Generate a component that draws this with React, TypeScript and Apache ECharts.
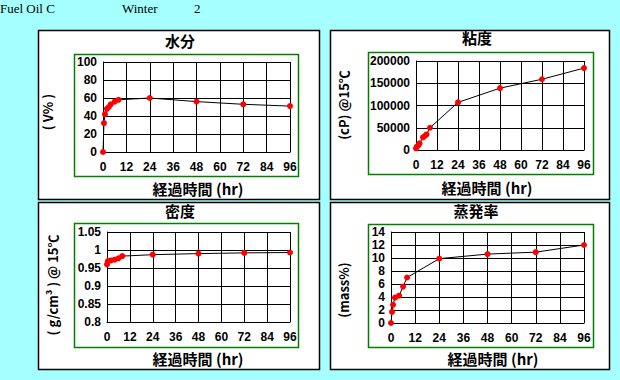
import React, { useEffect, useRef } from "react";
import * as echarts from "echarts";

const waterTimes = [0, 0.5, 1, 2, 3, 4, 6, 8, 24, 48, 72, 96];
const waterValues = [0, 32, 42, 48, 50, 53, 56, 58, 60, 56, 53, 51];

const viscTimes = [0, 0.5, 1.5, 2, 4, 5, 6, 8, 24, 48, 72, 96];
const viscValues = [3800, 7500, 11000, 15000, 28500, 31500, 35000, 50000, 107000, 139000, 159000, 184000];

const densTimes = [0, 0.5, 2, 4, 6, 8, 24, 48, 72, 96];
const densValues = [0.96, 0.969, 0.971, 0.973, 0.977, 0.983, 0.987, 0.99, 0.992, 0.993];

const evapTimes = [0, 0.5, 1, 2, 4, 6, 8, 24, 48, 72, 96];
const evapValues = [0, 1.7, 2.8, 3.9, 4.2, 5.6, 7.0, 9.9, 10.6, 10.9, 12.0];

const panelTitles = ["水分", "粘度", "密度", "蒸発率"];
const yLabels = ["( V% )", "(cP) @15℃", "( g/cm³ ) @ 15℃", "(mass%)"];
const xName = "経過時間 (hr)";
const headerTexts = ["Fuel Oil C", "Winter", "2"];

export default function App() {
  const ref = useRef<HTMLDivElement>(null);
  useEffect(() => {
    document.body.style.margin = "0";
    const chart = echarts.init(ref.current!, null, { renderer: "svg" });
    const font = "Liberation Sans";
    const cjk = "Noto Sans CJK JP";
    const grids = [
      { left: 103, right: 330, top: 62, bottom: 228 },
      { left: 416, right: 36, top: 61, bottom: 230 },
      { left: 107, right: 330, top: 232, bottom: 58 },
      { left: 391, right: 36, top: 232, bottom: 57 },
    ];
    const yCfg = [
      { min: 0, max: 100, interval: 20 },
      { min: 0, max: 200000, interval: 50000 },
      { min: 0.8, max: 1.05, interval: 0.05 },
      { min: 0, max: 14, interval: 2 },
    ];
    const lineStyle = { color: "#000", width: 1 };
    const axisCommon = {
      axisLine: { show: true, onZero: false, lineStyle },
      axisTick: { show: false },
      splitLine: { show: true, lineStyle },
    };
    const labelStyle = { color: "#000", fontFamily: font, fontWeight: "bold", fontSize: 12 };
    const data = [
      [waterTimes, waterValues],
      [viscTimes, viscValues],
      [densTimes, densValues],
      [evapTimes, evapValues],
    ];
    const panels = [
      { x: 38, y: 30, w: 281, h: 169 },
      { x: 330, y: 30, w: 279, h: 169 },
      { x: 38, y: 202, w: 281, h: 167 },
      { x: 330, y: 202, w: 279, h: 167 },
    ];
    const frames = [
      { x: 74, y: 54, w: 224, h: 122 },
      { x: 368, y: 52, w: 225, h: 122 },
      { x: 74, y: 223, w: 224, h: 124 },
      { x: 368, y: 224, w: 225, h: 123 },
    ];
    const titlePos = [
      [180, 40],
      [477, 37],
      [180, 210],
      [476, 210],
    ];
    const xNamePos = [
      [198, 188],
      [487, 187],
      [198, 358],
      [493, 358],
    ];
    const yLabelPos = [
      [47, 112],
      [343, 105],
      [52, 285],
      [343, 290],
    ];
    const elements: any[] = [];
    panels.forEach((p) =>
      elements.push({
        type: "rect",
        z: -10,
        shape: { x: p.x + 0.5, y: p.y + 0.5, width: p.w, height: p.h },
        style: { fill: "#fff", stroke: "#000", lineWidth: 1.5 },
      })
    );
    frames.forEach((f) =>
      elements.push({
        type: "rect",
        z: -9,
        shape: { x: f.x + 0.5, y: f.y + 0.5, width: f.w, height: f.h },
        style: { fill: "none", stroke: "#008000", lineWidth: 1.5 },
      })
    );
    panelTitles.forEach((t, i) =>
      elements.push({
        type: "text",
        x: titlePos[i][0],
        y: titlePos[i][1],
        style: { text: t, fill: "#000", font: `bold 15px "${cjk}"`, align: "center", verticalAlign: "middle" },
      })
    );
    xNamePos.forEach((pos) =>
      elements.push({
        type: "text",
        x: pos[0],
        y: pos[1],
        style: { text: xName, fill: "#000", font: `bold 15px "${cjk}"`, align: "center", verticalAlign: "middle" },
      })
    );
    yLabels.forEach((t, i) =>
      elements.push({
        type: "text",
        x: yLabelPos[i][0],
        y: yLabelPos[i][1],
        rotation: Math.PI / 2,
        style: { text: t, fill: "#000", font: `bold 13px "${cjk}"`, align: "center", verticalAlign: "middle" },
      })
    );
    const headerX = [0, 122, 194];
    headerTexts.forEach((t, i) =>
      elements.push({
        type: "text",
        x: headerX[i],
        y: 2,
        style: { text: t, fill: "#000", font: `13px "Liberation Serif"`, align: "left", verticalAlign: "top" },
      })
    );

    chart.setOption({
      animation: false,
      backgroundColor: "#A6FFFF",
      graphic: { z: -10, elements },
      grid: grids.map((g) => ({ ...g, containLabel: false })),
      xAxis: grids.map((_, i) => ({
        type: "value",
        gridIndex: i,
        min: 0,
        max: 96,
        interval: 12,
        ...axisCommon,
        axisLabel: { ...labelStyle, margin: 9 },
      })),
      yAxis: grids.map((_, i) => ({
        type: "value",
        gridIndex: i,
        ...yCfg[i],
        ...axisCommon,
        axisLabel: { ...labelStyle, margin: 6, formatter: (v: number) => String(parseFloat(v.toFixed(4))) },
      })),
      series: data.map((d, i) => ({
        type: "line",
        xAxisIndex: i,
        yAxisIndex: i,
        data: d[0].map((t, j) => [t, d[1][j]]),
        lineStyle,
        symbol: "circle",
        symbolSize: 6,
        itemStyle: { color: "#FF0000" },
        z: 5,
      })),
    });
    return () => chart.dispose();
  }, []);
  return <div ref={ref} style={{ width: 620, height: 380 }} />;
}
